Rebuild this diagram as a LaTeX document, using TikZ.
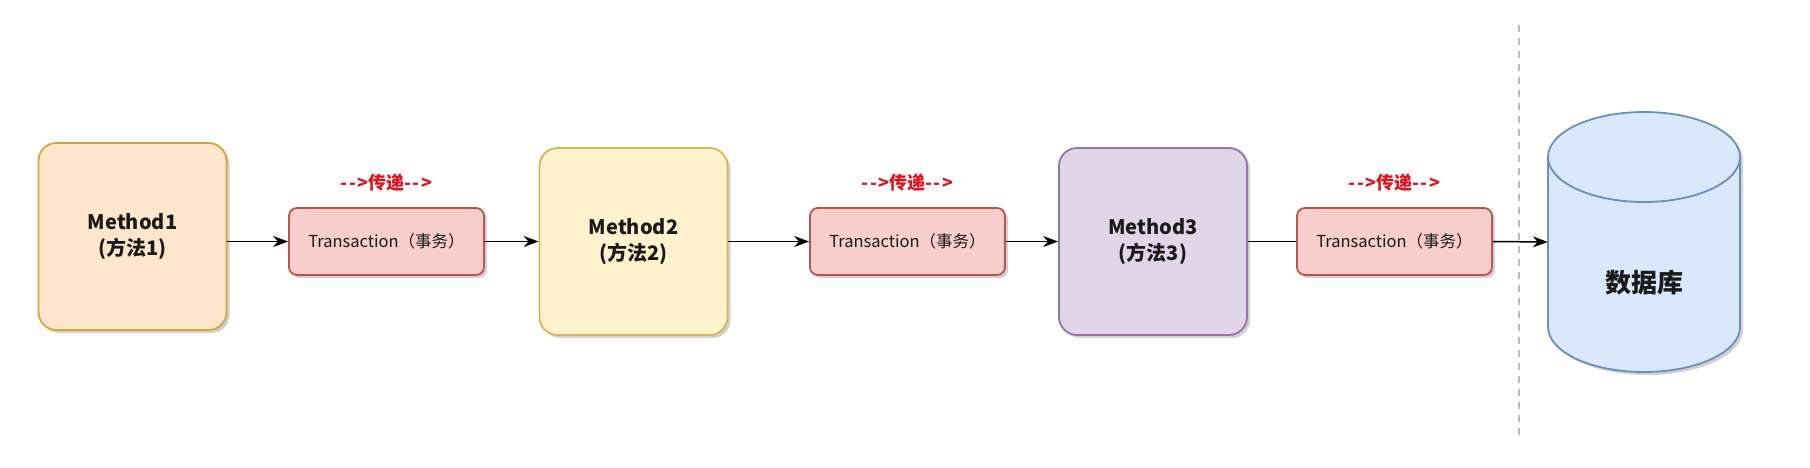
\documentclass[tikz,border=0pt]{standalone}
\usepackage{fontspec}
\setmainfont{Noto Sans CJK SC}
\usetikzlibrary{arrows.meta,shadows,positioning}
\definecolor{m1fill}{HTML}{FFE6CC}\definecolor{m1line}{HTML}{D7A33A}
\definecolor{m2fill}{HTML}{FFF2CC}\definecolor{m2line}{HTML}{D6B656}
\definecolor{m3fill}{HTML}{E1D5E7}\definecolor{m3line}{HTML}{9673A6}
\definecolor{tfill}{HTML}{F8CECC}\definecolor{tline}{HTML}{B85450}
\definecolor{dbfill}{HTML}{DAE8FC}\definecolor{dbline}{HTML}{6C8EBF}
\definecolor{lblred}{HTML}{E0141E}
\definecolor{sepgray}{HTML}{BBBBBB}
\definecolor{txt}{HTML}{1A1A1A}
\newcommand{\passarrow}{-\kern1.5pt-\kern1.5pt>}
\tikzset{
  shad/.style={drop shadow={shadow xshift=3pt,shadow yshift=-3pt,fill=black,opacity=0.18}},
  methodbox/.style={shad,draw,line width=1.8pt,rounded corners=18pt,minimum width=188pt,minimum height=187pt,
    align=center,text=txt,font=\bfseries\fontsize{20}{26}\selectfont,inner sep=0pt},
  txbox/.style={shad,draw=tline,fill=tfill,line width=1.8pt,rounded corners=8pt,minimum width=195pt,minimum height=67pt,
    text=txt,font=\fontsize{16.5}{20}\selectfont,inner sep=0pt},
  passlbl/.style={text=lblred,font=\bfseries\fontsize{18}{21}\selectfont,inner sep=0pt},
  flow/.style={line width=1.5pt,-{Stealth[length=15pt,width=11pt]}},
  flowplain/.style={line width=1.5pt},
}
\begin{document}
\begin{tikzpicture}[x=1pt,y=-1pt]
\useasboundingbox (0,0) rectangle (1810,467);
\fill[white] (0,0) rectangle (1810,467);
% methods
\node[methodbox,draw=m1line,fill=m1fill] (m1) at (132.5,236.5) {Method1\\(方法1)};
\node[methodbox,draw=m2line,fill=m2fill] (m2) at (633.5,241.5) {Method2\\(方法2)};
\node[methodbox,draw=m3line,fill=m3fill] (m3) at (1153,241.5) {Method3\\(方法3)};
% transactions
\node[txbox] (t1) at (386.5,241.5) {Transaction（事务）};
\node[txbox] (t2) at (907.5,241.5) {Transaction（事务）};
\node[txbox] (t3) at (1394.5,241.5) {Transaction（事务）};
% labels
\node[passlbl] (l1) at (386.5,183) {\passarrow 传递\passarrow};
\node[passlbl] (l2) at (907.5,183) {\passarrow 传递\passarrow};
\node[passlbl] (l3) at (1394.5,183) {\passarrow 传递\passarrow};
% separator
\coordinate (septop) at (1519,25);
\coordinate (sepbot) at (1519,437);
\draw[sepgray,line width=1.5pt,dash pattern=on 7pt off 6pt] (septop) -- (sepbot);
% database cylinder
\node[minimum width=192pt,minimum height=260pt,inner sep=0pt] (db) at (1644,242) {};
\begin{scope}
\fill[black,opacity=0.18,shift={(3pt,-3pt)}] (1548,157) -- (1548,327)
   arc[start angle=180,end angle=360,x radius=96pt,y radius=45pt] -- (1740,157)
   arc[start angle=0,end angle=180,x radius=96pt,y radius=45pt] -- cycle;
\filldraw[fill=dbfill,draw=dbline,line width=1.8pt] (1548,157) -- (1548,327)
   arc[start angle=180,end angle=360,x radius=96pt,y radius=45pt] -- (1740,157)
   arc[start angle=0,end angle=180,x radius=96pt,y radius=45pt] -- cycle;
\draw[dbline,line width=1.8pt] (1548,157) arc[start angle=180,end angle=360,x radius=96pt,y radius=45pt];
\end{scope}
\node[font=\bfseries\fontsize{26}{30}\selectfont,text=txt,inner sep=0pt] (dbtext) at (1644,283) {数据库};
% connectors
\draw[flow] (m1.east |- t1.west) -- (t1.west);
\draw[flow] (t1.east) -- (m2.west);
\draw[flow] (m2.east) -- (t2.west);
\draw[flow] (t2.east) -- (m3.west);
\draw[flowplain] (m3.east) -- (t3.west);
\draw[flow] (t3.east) -- (db.west);
\end{tikzpicture}
\end{document}
